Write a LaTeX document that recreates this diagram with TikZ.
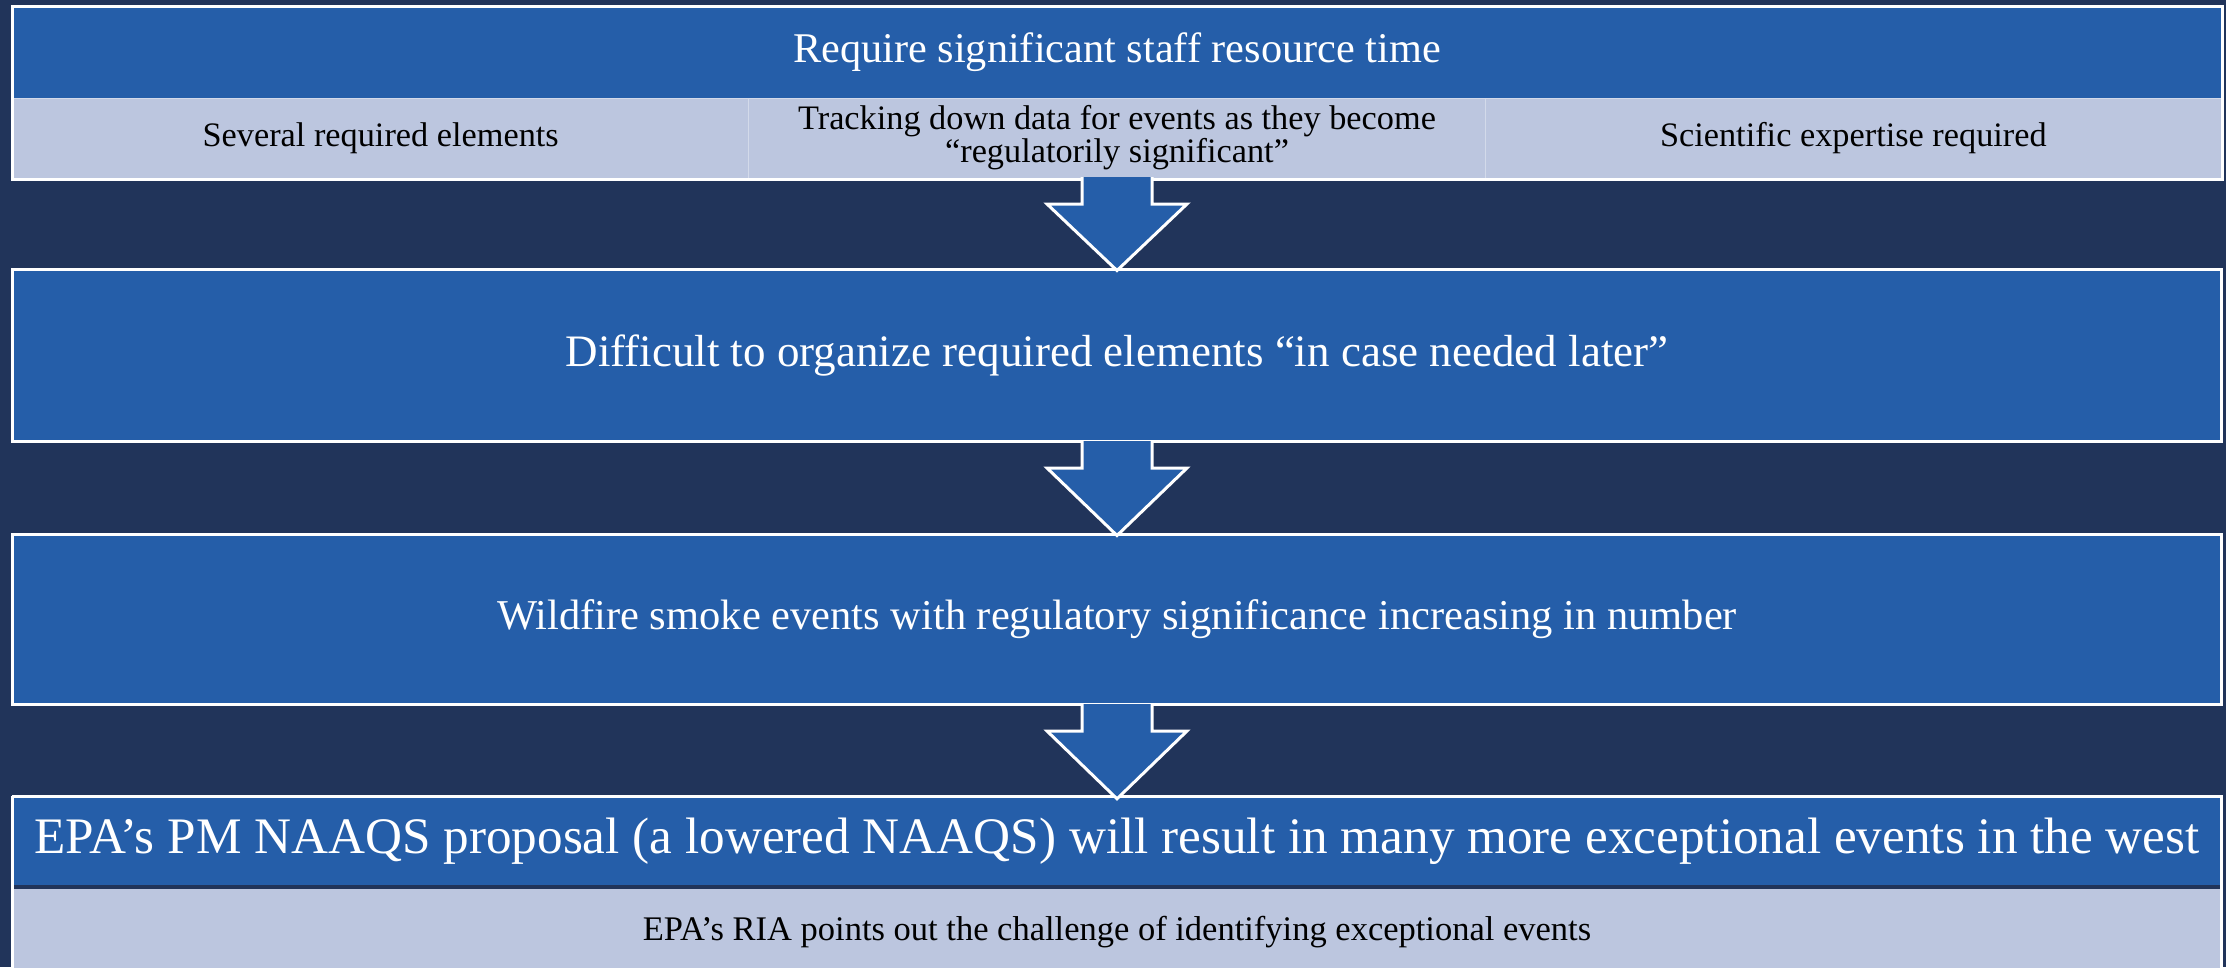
\documentclass[tikz,border=0pt]{standalone}
\usepackage{fontspec}
\setmainfont{Liberation Serif}
\usetikzlibrary{calc}

\definecolor{hintergrund}{HTML}{21345A}
\definecolor{kasten}{HTML}{255EA9}
\definecolor{zeile}{HTML}{BCC6DF}
\definecolor{trenner}{HTML}{D3DAEA}

\begin{document}
\begin{tikzpicture}[x=1pt,y=-1pt]
\tikzstyle{Kopf} = [fill=kasten, text=white, inner sep=0, minimum width=2209]
\tikzstyle{Zelle} = [fill=zeile, draw=trenner, line width=1, text=black, inner sep=0, font=\fontsize{34.3}{28}\selectfont, align=center]
\tikzstyle{Block} = [fill=kasten, draw=white, line width=3, text=white, inner sep=0, minimum width=2209]
\tikzstyle{Rahmen} = [draw=white, line width=3]
\tikzstyle{Pfeil} = [fill=kasten]
\tikzstyle{Pfeilrand} = [draw=white, line width=3, line join=miter]

\fill[hintergrund] (0,0) rectangle (2226,967);
\useasboundingbox (0,0) rectangle (2226,967);

\node [Kopf, minimum height=91.5, font=\fontsize{42.3}{46}\selectfont] (v1) at (1117,52.25) {Require significant staff resource time};
\node [Zelle, minimum width=736.33, minimum height=80.5] (v2) at (380.67,138.25) {Several required elements};
\node [Zelle, minimum width=736.33, minimum height=80.5] (v3) at (1117,138.25) {\raisebox{-3pt}{\begin{tabular}{@{}c@{}}Tracking down data for events as they become\\``regulatorily significant''\end{tabular}}};
\node [Zelle, minimum width=736.33, minimum height=80.5] (v4) at (1853.33,138.25) {Scientific expertise required};
\draw [Rahmen] (v1.north west) rectangle (v4.south east);

\node [Block, minimum height=172, font=\fontsize{45}{50}\selectfont] (v5) at (1117,355.5) {Difficult to organize required elements ``in case needed later''};
\node [Block, minimum height=170, font=\fontsize{42.5}{48}\selectfont] (v6) at (1117,619.5) {Wildfire smoke events with regulatory significance increasing in number};

\node [Kopf, minimum height=88.5, font=\fontsize{51.2}{56}\selectfont] (v7) at (1117,840.75) {EPA’s PM NAAQS proposal (a lowered NAAQS) will result in many more exceptional events in the west};
\node [Zelle, draw=none, minimum width=2209, minimum height=86, font=\fontsize{34.5}{38}\selectfont] (v8) at (1117,932) {EPA’s RIA points out the challenge of identifying exceptional events};
\draw [Rahmen] (v7.north west) -- (v7.north east) -- ++(0,200);
\draw [Rahmen] (v7.north west) -- ++(0,200);

% Blockpfeile
\fill [Pfeil] ($(v3.south)+(-35,-2)$) -- ++(0,27) -- ++(-35,0) -- ($(v5.north)+(0,2.5)$) -- ($(v3.south)+(70,25)$) -- ++(-35,0) -- ++(0,-27) -- cycle;
\draw [Pfeilrand] ($(v3.south)+(-35,-2)$) -- ++(0,27) -- ++(-35,0) -- ($(v5.north)+(0,2.5)$) -- ($(v3.south)+(70,25)$) -- ++(-35,0) -- ++(0,-27);
\fill [Pfeil] ($(v5.south)+(-35,-2)$) -- ++(0,27) -- ++(-35,0) -- ($(v6.north)+(0,2.5)$) -- ($(v5.south)+(70,25)$) -- ++(-35,0) -- ++(0,-27) -- cycle;
\draw [Pfeilrand] ($(v5.south)+(-35,-2)$) -- ++(0,27) -- ++(-35,0) -- ($(v6.north)+(0,2.5)$) -- ($(v5.south)+(70,25)$) -- ++(-35,0) -- ++(0,-27);
\fill [Pfeil] ($(v6.south)+(-35,-2)$) -- ++(0,27) -- ++(-35,0) -- ($(v7.north)+(0,2.5)$) -- ($(v6.south)+(70,25)$) -- ++(-35,0) -- ++(0,-27) -- cycle;
\draw [Pfeilrand] ($(v6.south)+(-35,-2)$) -- ++(0,27) -- ++(-35,0) -- ($(v7.north)+(0,2.5)$) -- ($(v6.south)+(70,25)$) -- ++(-35,0) -- ++(0,-27);
\end{tikzpicture}
\end{document}
